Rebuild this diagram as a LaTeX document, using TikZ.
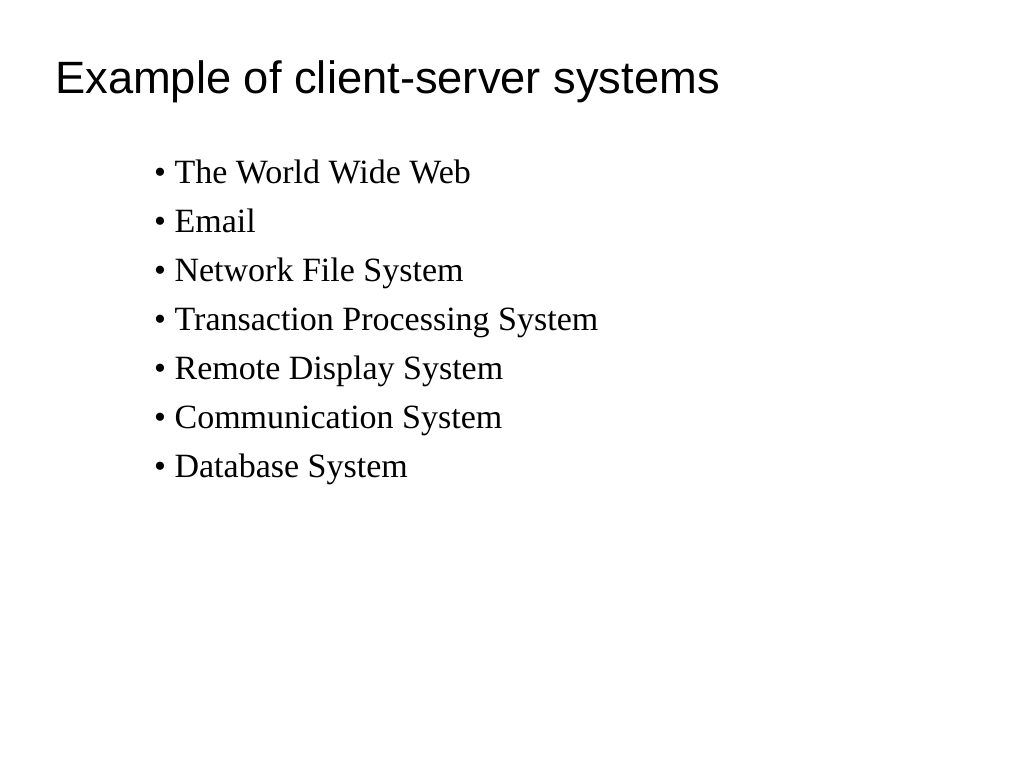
\documentclass[tikz,border=0pt]{standalone}
\usepackage{fontspec}
\setmainfont{Liberation Serif}
\newfontfamily\titlefont{Liberation Sans}
\usetikzlibrary{positioning}

\begin{document}
\begin{tikzpicture}[x=1pt,y=-1pt,
    title/.style={anchor=base west,inner sep=0pt,font=\titlefont\fontsize{45.3}{54}\selectfont},
    item/.style={anchor=base west,inner sep=0pt,font=\fontsize{34}{40}\selectfont}]

    \useasboundingbox[fill=white] (0,0) rectangle (1024,768);

    \node[title] (title) at (55,93) {Example of client-server systems};

    % the list, one line every 49px
    \foreach \txt [count=\i] in {The World Wide Web,Email,Network File System,
        Transaction Processing System,Remote Display System,Communication System,
        Database System}
        \node[item] (item\i) at (154,134+49*\i) {\textbullet{} \txt};
\end{tikzpicture}
\end{document}
